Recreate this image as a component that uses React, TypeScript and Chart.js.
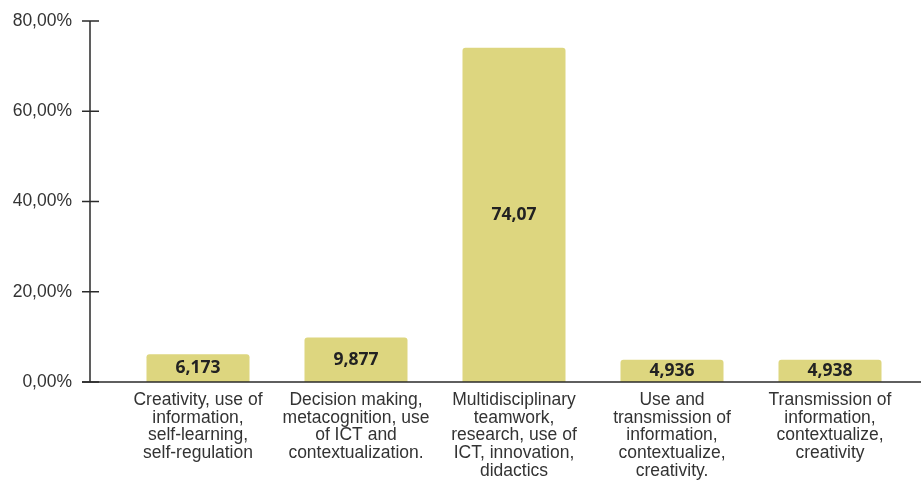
import React, { useEffect, useRef } from "react";
import { Chart, registerables } from "chart.js";

Chart.register(...registerables);

const categories: string[][] = [
  ["Creativity, use of", "information,", "self-learning,", "self-regulation"],
  ["Decision making,", "metacognition, use", "of ICT and", "contextualization."],
  ["Multidisciplinary", "teamwork,", "research, use of", "ICT, innovation,", "didactics"],
  ["Use and", "transmission of", "information,", "contextualize,", "creativity."],
  ["Transmission of", "information,", "contextualize,", "creativity"],
];
const values: number[] = [6.173, 9.877, 74.07, 4.936, 4.938];
const yTicks: number[] = [0, 20, 40, 60, 80];

const fmtPct = (v: number) => v.toFixed(2).replace(".", ",") + "%";
const fmtVal = (v: number) => v.toPrecision(4).replace(".", ",");

const axisPlugin = {
  id: "customAxes",
  afterDatasetsDraw(chart: any) {
    const { ctx, chartArea, scales } = chart;
    const y = scales.y;
    const axisX = chartArea.left - 29;
    ctx.save();
    ctx.strokeStyle = "#2a2a2a";
    ctx.lineWidth = 1.5;
    ctx.beginPath();
    ctx.moveTo(axisX, y.getPixelForValue(yTicks[yTicks.length - 1]));
    ctx.lineTo(axisX, y.getPixelForValue(0));
    ctx.stroke();
    yTicks.forEach((t) => {
      const py = y.getPixelForValue(t);
      ctx.beginPath();
      ctx.moveTo(axisX - 8, py);
      ctx.lineTo(axisX + 9, py);
      ctx.stroke();
    });
    const zy = y.getPixelForValue(0);
    ctx.beginPath();
    ctx.moveTo(axisX - 8, zy);
    ctx.lineTo(chart.width, zy);
    ctx.stroke();
    const meta = chart.getDatasetMeta(0);
    ctx.fillStyle = "#222";
    ctx.font = "bold 17.5px 'Open Sans', sans-serif";
    ctx.textAlign = "center";
    ctx.textBaseline = "middle";
    meta.data.forEach((bar: any, i: number) => {
      const cy = (bar.y + bar.base) / 2;
      ctx.fillText(fmtVal(values[i]), bar.x, cy);
    });
    ctx.restore();
  },
};

export default function App() {
  const ref = useRef<HTMLCanvasElement>(null);
  useEffect(() => {
    if (!ref.current) return;
    const chart = new Chart(ref.current, {
      type: "bar",
      data: {
        labels: categories,
        datasets: [
          {
            data: values,
            backgroundColor: "#DDD67F",
            borderRadius: { topLeft: 3, topRight: 3, bottomLeft: 0, bottomRight: 0 },
            borderSkipped: false,
            categoryPercentage: 1,
            barPercentage: 0.652,
          },
        ],
      },
      options: {
        animation: false,
        responsive: true,
        maintainAspectRatio: false,
        layout: { padding: { top: 21, right: 12, left: 0, bottom: 0 } },
        plugins: { legend: { display: false }, tooltip: { enabled: false } },
        scales: {
          x: {
            grid: { display: false, drawTicks: false },
            border: { display: false },
            ticks: {
              color: "#333",
              padding: 9,
              maxRotation: 0,
              autoSkip: false,
              font: { family: "'Liberation Sans', Arial, sans-serif", size: 17.5, lineHeight: 1.02 },
            },
            afterFit: (s: any) => {
              s.height = 98;
              s.paddingLeft = 0;
              s.paddingRight = 0;
            },
          },
          y: {
            min: 0,
            max: 80,
            grid: { display: false, drawTicks: false },
            border: { display: false },
            ticks: {
              stepSize: 20,
              padding: 47,
              color: "#333",
              font: { family: "'Liberation Sans', Arial, sans-serif", size: 17.5 },
              callback: (v: any) => fmtPct(Number(v)),
            },
            afterFit: (s: any) => {
              s.width = 119;
              s.paddingTop = 0;
              s.paddingBottom = 0;
            },
          },
        },
      },
      plugins: [axisPlugin],
    });
    return () => chart.destroy();
  }, []);
  return (
    <div style={{ position: "fixed", left: 0, top: 0, width: 921, height: 480, background: "#fff" }}>
      <canvas ref={ref} />
    </div>
  );
}
